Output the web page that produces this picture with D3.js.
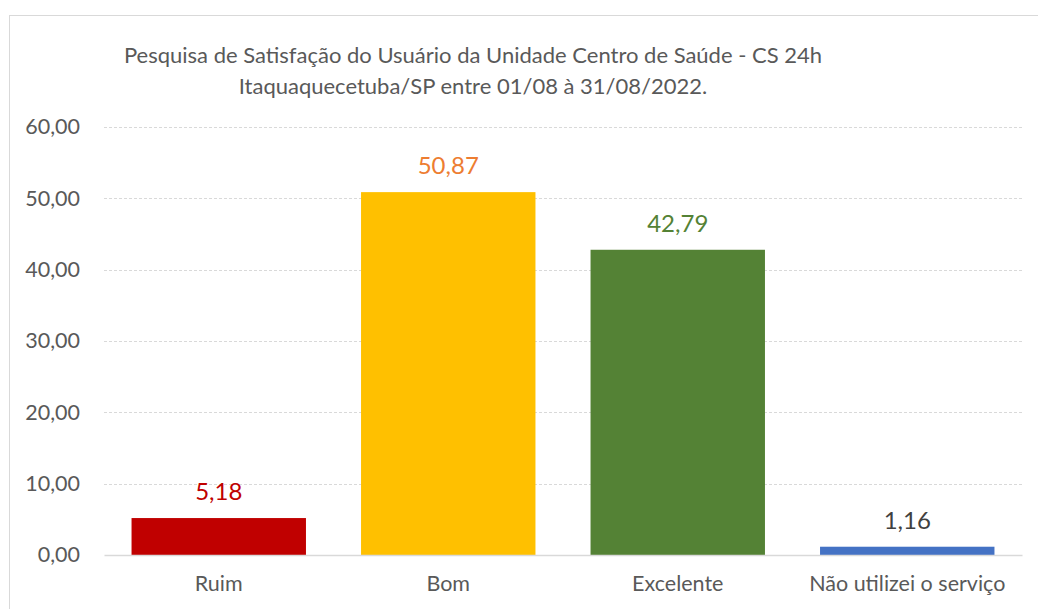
<!DOCTYPE html>
<html><head><meta charset="utf-8">
<script src="https://cdn.jsdelivr.net/npm/d3@7"></script>
<style>body{margin:0;background:#fff}svg{display:block}text{font-family:Lato,"Open Sans",sans-serif}</style>
</head><body><svg id="c" width="1038" height="609"></svg>
<script>
const categories = ["Ruim","Bom","Excelente","Não utilizei o serviço"];
const values = [5.18, 50.87, 42.79, 1.16];
const barColors = ["#C00000","#FFC000","#548235","#4472C4"];
const labelColors = ["#C00000","#ED7D31","#548235","#404040"];
const yTicks = [0,10,20,30,40,50,60];
const titleLines = ["Pesquisa de Satisfação do Usuário da Unidade Centro de Saúde - CS 24h","Itaquaquecetuba/SP entre 01/08 à 31/08/2022."];

const svg = d3.select("#c");
svg.append("rect").attr("x",9.5).attr("y",15.5).attr("width",1040).attr("height",600)
  .attr("fill","#fff").attr("stroke","#d9d9d9").attr("stroke-width",1);

const x = d3.scaleBand().domain(categories).range([104,1022]).paddingInner(0.24).paddingOuter(0.12);
const y = d3.scaleLinear().domain([0,60]).range([555,127]);
const fmt = v => d3.format(".2f")(v).replace(".",",");

svg.append("g").selectAll("line").data(yTicks.filter(d=>d>0)).join("line")
  .attr("x1",104).attr("x2",1022).attr("y1",d=>Math.round(y(d))+0.5).attr("y2",d=>Math.round(y(d))+0.5)
  .attr("stroke","#d9d9d9").attr("stroke-dasharray","3,2");

const yAxis = svg.append("g").attr("transform","translate(104,0)")
  .call(d3.axisLeft(y).tickValues(yTicks).tickFormat(fmt).tickSize(0).tickPadding(24));
yAxis.select(".domain").remove();
yAxis.selectAll("text").attr("fill","#595959").style("font-size","21.5px").style("font-family","Lato,'Open Sans',sans-serif");

svg.append("g").selectAll("rect").data(values).join("rect")
  .attr("x",(d,i)=>x(categories[i])).attr("width",x.bandwidth())
  .attr("y",d=>y(d)).attr("height",d=>y(0)-y(d)).attr("fill",(d,i)=>barColors[i]);

const xAxis = svg.append("g").attr("transform","translate(0,555)")
  .call(d3.axisBottom(x).tickSize(0).tickPadding(21));
xAxis.select(".domain").attr("stroke","#d9d9d9").attr("stroke-width",1.5);
xAxis.selectAll("text").attr("fill","#595959").style("font-size","21.5px").style("font-family","Lato,'Open Sans',sans-serif");

svg.append("g").selectAll("text").data(values).join("text")
  .attr("x",(d,i)=>x(categories[i])+x.bandwidth()/2).attr("y",d=>y(d)-18)
  .attr("text-anchor","middle").attr("fill",(d,i)=>labelColors[i]).style("font-size","24px")
  .text(d=>fmt(d));

svg.append("g").selectAll("text").data(titleLines).join("text")
  .attr("x",473).attr("y",(d,i)=>63+i*31).attr("text-anchor","middle")
  .attr("fill","#595959").style("font-size","22px").text(d=>d);
</script></body></html>
